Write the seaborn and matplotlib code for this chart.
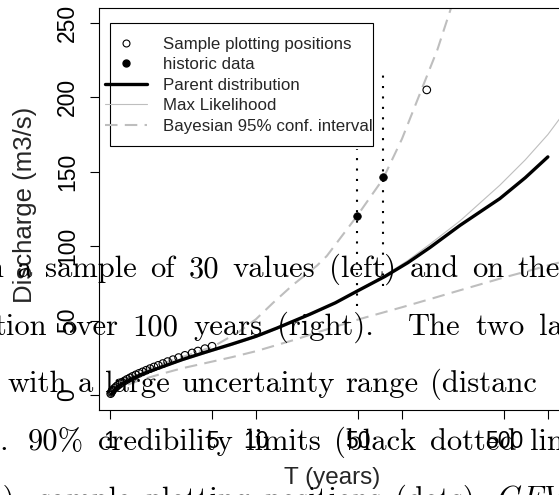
import numpy as np
import pandas as pd
import matplotlib
matplotlib.use('Agg')
import matplotlib.pyplot as plt
from matplotlib.lines import Line2D
from matplotlib.patches import Rectangle
from matplotlib.ticker import NullLocator
import seaborn as sns

sns.set_style('white')
plt.rcParams['font.family'] = ['Liberation Sans', 'DejaVu Sans']
plt.rcParams['mathtext.fontset'] = 'cm'

# values: return period T (years) -> discharge (m3/s)
parent_t = [1.02, 1.15, 1.4, 1.66, 2.2, 3.11, 4.5, 6.85, 10, 13.9, 23.4, 35, 49, 76.5,
            110, 156, 250, 469, 700, 1000]
parent_q = [0.6, 6.3, 10.8, 14.2, 18.5, 23.8, 28.8, 34.3, 39.5, 45.0, 54.3, 62.0, 69.7, 79.7,
            89.0, 99.2, 114, 132, 146, 160]

ml_t = [1.02, 1.15, 1.4, 1.66, 2.2, 3.11, 4.5, 6.85, 10, 13.9, 23.4, 35, 49, 76.5,
        110, 156, 250, 469, 700, 1000, 1300]
ml_q = [0.3, 5.8, 10.2, 13.6, 17.8, 23.0, 28.0, 33.5, 38.8, 44.3, 53.8, 61.8, 69.8, 80.6,
        90.5, 101.5, 117, 141, 158, 175, 190]

upper_t = [1.02, 1.15, 1.4, 1.66, 2.2, 3.11, 5.07, 7.5, 10, 13.1, 17.9, 26.2, 30.6, 49,
           74, 100, 136, 175, 217, 240]
upper_q = [1, 7.5, 12.5, 16, 20.5, 25.5, 32.5, 42, 51, 62, 74, 87, 93.5, 120,
           145, 172, 205, 232, 260, 275]

lower_t = [1.02, 1.15, 1.4, 1.66, 2.2, 3.11, 4.5, 6.85, 10, 18.9, 26, 51, 100, 156,
           262, 500, 1000, 1300]
lower_q = [0.3, 4.5, 8, 10.5, 14, 18, 21.5, 25.5, 29.5, 37.5, 42, 51, 59, 64.5,
           71, 79, 87, 90]

sample_t = [1.01, 1.02, 1.03, 1.04, 1.07, 1.10, 1.13, 1.17, 1.21, 1.26, 1.31, 1.37, 1.43,
            1.50, 1.58, 1.67, 1.77, 1.88, 2.00, 2.14, 2.30, 2.48, 2.70, 2.95, 3.26, 3.65,
            4.00, 4.47, 5.00, 148]
sample_q = [1.0, 1.8, 2.6, 3.3, 4.5, 5.6, 6.6, 7.6, 8.6, 9.6, 10.6, 11.6, 12.6,
            13.6, 14.6, 15.6, 16.7, 17.8, 18.9, 20.0, 21.2, 22.5, 23.8, 25.2, 26.7, 28.3,
            29.6, 31.2, 32.8, 205]

hist_t = [49.2, 74]
hist_q = [120, 146.7]
hist_lo = [60, 73]
hist_hi = [165, 218]

xticks = [1, 5, 10, 50, 100, 500, 1000]
xtick_labels = ['1', '5', '10', '50', '', '500', '']
yticks = [0, 50, 100, 150, 200, 250]

# page text that sits behind the figure: (x start, text) pieces per line
page_lines = [
    [(-14, 'n a sample of 30 values (left) and on the')],
    [(-6, 'tion over 100 years (right).'), (408, 'The two la')],
    [(7, 'with a large uncertainty range (distanc')],
    [(-12, 's.'), (28, '90% credibility limits (black dotted lin')],
    [(-11, 'e),'), (39, 'sample plotting positions (dots), $GEV$')],
]
page_gap = [13.5, 14.5, 11.4, 13.5, 14]
page_y = [277, 335, 392.5, 450, 507.5]

W, H = 559, 495
fig = plt.figure(figsize=(W / 100, H / 100), dpi=100)
ax = fig.add_axes([99 / W, 1 - 410 / H, 465 / W, 402 / H])
ax.patch.set_alpha(0)

gray = '#bebebe'
sns.lineplot(x=upper_t, y=upper_q, color=gray, lw=1.5, ax=ax)
ax.lines[-1].set_dashes((6, 3.5))
sns.lineplot(x=lower_t, y=lower_q, color=gray, lw=1.5, ax=ax)
ax.lines[-1].set_dashes((6, 3.5))
sns.lineplot(x=ml_t, y=ml_q, color=gray, lw=0.8, ax=ax)
sns.lineplot(x=parent_t, y=parent_q, color='black', lw=2.4, ax=ax)
ax.vlines(hist_t, hist_lo, hist_hi, colors='black', linestyles=(0, (1, 4)), lw=1.5)
sns.scatterplot(x=sample_t, y=sample_q, color='black', facecolor='none',
                edgecolor='black', s=30, linewidth=0.8, ax=ax, zorder=4)
sns.scatterplot(x=hist_t, y=hist_q, color='black', edgecolor='black', s=30,
                linewidth=0.5, ax=ax, zorder=4)

ax.set_xscale('log')
ax.set_xlim(0.84, 1290)
ax.set_ylim(-10, 260)
ax.xaxis.set_minor_locator(NullLocator())
ax.set_xticks(xticks, xtick_labels)
ax.set_yticks(yticks)
plt.setp(ax.get_yticklabels(), rotation=90, va='center')
ax.tick_params(bottom=True, left=True, direction='out', length=6.5, width=0.8,
               pad=8, labelsize=16.5, color='black', labelcolor='black')
for s in ax.spines.values():
    s.set_color('black')
    s.set_linewidth(0.8)

ax.set_xlabel('T (years)', fontsize=17.5)
ax.set_ylabel('Discharge (m3/s)', fontsize=18.5)
ax.xaxis.set_label_coords(0.5 + 1 / 465, -0.142)
ax.yaxis.set_label_coords(-62 / 465, 0.51)

# legend: white box, handles start a bit left of the box like R does
ax.add_patch(Rectangle((11 / 465, 264 / 402), 263 / 465, 123 / 402, transform=ax.transAxes,
                       facecolor='white', edgecolor='black', lw=0.8, zorder=4.5))
handles = [
    Line2D([], [], ls='none', marker='o', mfc='none', mec='black', ms=5, mew=0.8),
    Line2D([], [], ls='none', marker='o', mfc='black', mec='black', ms=5),
    Line2D([], [], color='black', lw=2.4),
    Line2D([], [], color=gray, lw=0.8),
    Line2D([], [], color=gray, lw=1.5, dashes=(6, 3.5)),
]
labels = ['Sample plotting positions', 'historic data', 'Parent distribution',
          'Max Likelihood', 'Bayesian 95% conf. interval']
leg = ax.legend(handles, labels, loc='upper left', bbox_to_anchor=(6 / 465, 373.5 / 402),
                borderaxespad=0, fontsize=12.2, frameon=False, handlelength=2.5,
                handletextpad=0.9, labelspacing=0.33, borderpad=0)
leg.set_zorder(5)

renderer = fig.canvas.get_renderer()
for pieces, gap, py in zip(page_lines, page_gap, page_y):
    for px, txt in pieces:
        x = px
        for word in txt.split(' '):
            t = fig.text(x / W, 1 - py / H, word, fontfamily='cmr10', fontsize=22,
                         va='baseline', ha='left', color='black')
            x += t.get_window_extent(renderer=renderer).width + gap

fig.savefig('out.png', dpi=100)
